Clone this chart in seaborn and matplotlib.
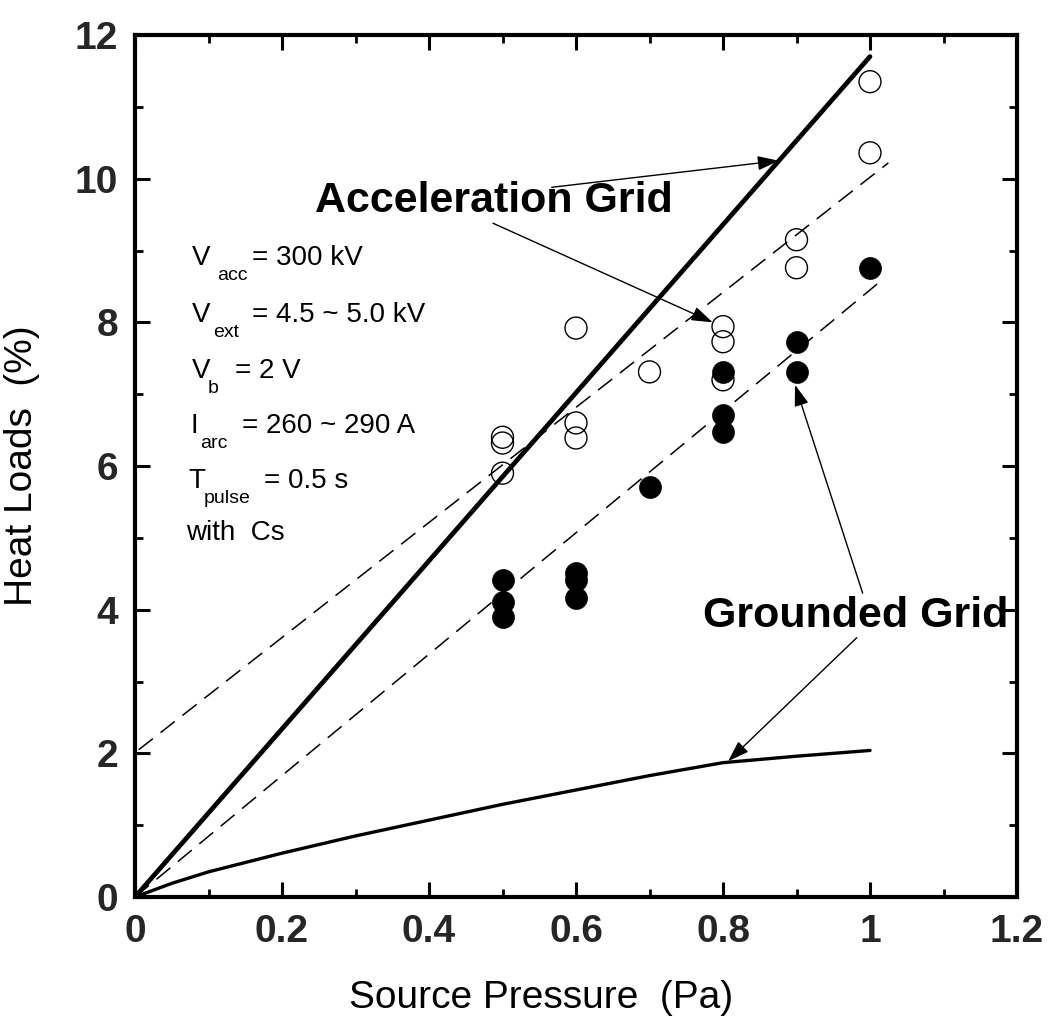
import matplotlib
matplotlib.use("Agg")
import matplotlib.pyplot as plt
import seaborn as sns
import pandas as pd
from matplotlib.ticker import MultipleLocator, FixedLocator, FixedFormatter

# ---------------- data ----------------
accel_x = [0.5, 0.5, 0.5, 0.6, 0.6, 0.6, 0.7, 0.8, 0.8, 0.8, 0.9, 0.9, 1.0, 1.0]
accel_y = [6.40, 6.32, 5.90, 7.92, 6.60, 6.39, 7.31, 7.94, 7.73, 7.20, 9.15, 8.76, 11.35, 10.36]

ground_x = [0.5, 0.5, 0.5, 0.6, 0.6, 0.6, 0.7, 0.8, 0.8, 0.8, 0.9, 0.9, 1.0]
ground_y = [4.41, 4.11, 3.90, 4.51, 4.41, 4.16, 5.71, 7.31, 6.71, 6.47, 7.73, 7.31, 8.76]

accel_line_x = [0.0, 1.0]
accel_line_y = [0.0, 11.7]

upper_dash_x = [0.005, 1.025]
upper_dash_y = [2.05, 10.22]

lower_dash_x = [0.0, 1.02]
lower_dash_y = [0.0, 8.62]

ground_curve_x = [0.0, 0.05, 0.1, 0.2, 0.3, 0.4, 0.5, 0.6, 0.7, 0.8, 0.9, 1.0]
ground_curve_y = [0.0, 0.19, 0.35, 0.61, 0.85, 1.07, 1.29, 1.49, 1.69, 1.87, 1.96, 2.04]

x_ticks = [0, 0.2, 0.4, 0.6, 0.8, 1.0, 1.2]
x_tick_labels = ["0", "0.2", "0.4", "0.6", "0.8", "1", "1.2"]
y_ticks = [0, 2, 4, 6, 8, 10, 12]
y_tick_labels = ["0", "2", "4", "6", "8", "10", "12"]

cond_symbols = ["V", "V", "V", "I", "T", "with  Cs"]
cond_subs = ["acc", "ext", "b", "arc", "pulse", ""]
cond_values = ["= 300 kV", "= 4.5 ~ 5.0 kV", "= 2 V", "= 260 ~ 290 A", "= 0.5 s", ""]

# ---------------- layout (positions only) ----------------
cond_base_y = [8.80, 8.00, 7.23, 6.46, 5.69, 4.97]
cond_sym_x = [0.078, 0.078, 0.078, 0.075, 0.072, 0.070]
cond_sub_x = [0.112, 0.106, 0.099, 0.089, 0.093, 0.0]
cond_val_x = [0.159, 0.159, 0.136, 0.145, 0.175, 0.0]

# ---------------- style ----------------
sns.set_theme(style="ticks")
plt.rcParams["font.family"] = ["Liberation Sans", "DejaVu Sans"]
plt.rcParams["lines.scale_dashes"] = False

fig = plt.figure(figsize=(10.53, 10.36), dpi=100)
ax = fig.add_axes([135 / 1053, 1 - 897 / 1036, 882 / 1053, 862 / 1036])

df_open = pd.DataFrame({"x": accel_x, "y": accel_y})
df_fill = pd.DataFrame({"x": ground_x, "y": ground_y})

# fit lines
sns.lineplot(x=accel_line_x, y=accel_line_y, ax=ax, color="black", lw=3.4, zorder=3)
sns.lineplot(x=ground_curve_x, y=ground_curve_y, ax=ax, color="black", lw=2.4, zorder=3)
sns.lineplot(x=upper_dash_x, y=upper_dash_y, ax=ax, color="black", lw=1.1, zorder=2)
ax.lines[-1].set_dashes((13, 7))
sns.lineplot(x=lower_dash_x, y=lower_dash_y, ax=ax, color="black", lw=1.1, zorder=2)
ax.lines[-1].set_dashes((13, 7))

# points
sns.scatterplot(data=df_open, x="x", y="y", ax=ax, s=250, facecolor="none",
                edgecolor="black", linewidth=1.0, zorder=4)
sns.scatterplot(data=df_fill, x="x", y="y", ax=ax, s=250, color="black",
                edgecolor="black", linewidth=0.5, zorder=5)

# axes
ax.set_xlim(0, 1.2)
ax.set_ylim(0, 12)
ax.xaxis.set_major_locator(FixedLocator(x_ticks))
ax.xaxis.set_major_formatter(FixedFormatter(x_tick_labels))
ax.yaxis.set_major_locator(FixedLocator(y_ticks))
ax.yaxis.set_major_formatter(FixedFormatter(y_tick_labels))
ax.xaxis.set_minor_locator(MultipleLocator(0.1))
ax.yaxis.set_minor_locator(MultipleLocator(1))
ax.tick_params(which="both", direction="in", top=True, right=True, color="black")
ax.tick_params(which="major", length=11, width=2.2, labelsize=28, pad=12)
ax.tick_params(which="minor", length=6, width=2.0)
for lab in ax.get_xticklabels() + ax.get_yticklabels():
    lab.set_fontweight("bold")
for sp in ax.spines.values():
    sp.set_linewidth(3)
    sp.set_color("black")
    sp.set_visible(True)
ax.set_facecolor("white")

ax.set_xlabel("Source Pressure  (Pa)", fontsize=28, color="black")
ax.xaxis.set_label_coords(0.46, -0.096)
ax.set_ylabel("Heat Loads  (%)", fontsize=28, color="black")
ax.yaxis.set_label_coords(-0.108, 0.5)

# conditions text (symbol, lowered subscript, value)
for sym, sub, val, yb, xs, xsub, xv in zip(cond_symbols, cond_subs, cond_values,
                                          cond_base_y, cond_sym_x, cond_sub_x, cond_val_x):
    ax.text(xs, yb, sym, fontsize=20, ha="left", va="baseline", color="black")
    if sub:
        ax.text(xsub, yb - 0.21, sub, fontsize=14, ha="left", va="baseline", color="black")
    if val:
        ax.text(xv, yb, val, fontsize=20, ha="left", va="baseline", color="black")

# labels and arrows
ax.text(0.245, 9.54, "Acceleration Grid", fontsize=31, fontweight="bold",
        ha="left", va="baseline", color="black")
ax.text(0.773, 3.76, "Grounded Grid", fontsize=31, fontweight="bold",
        ha="left", va="baseline", color="black", clip_on=False, zorder=1)

arrow = dict(arrowstyle="-|>,head_length=0.65,head_width=0.22", lw=1.0,
             color="black", shrinkA=0, shrinkB=0, mutation_scale=20)
ax.annotate("", xy=(0.876, 10.25), xytext=(0.567, 9.88), arrowprops=arrow)
ax.annotate("", xy=(0.786, 8.0), xytext=(0.487, 9.38), arrowprops=arrow)
ax.annotate("", xy=(0.898, 7.13), xytext=(0.990, 4.23), arrowprops=arrow)
ax.annotate("", xy=(0.807, 1.89), xytext=(0.982, 3.61), arrowprops=arrow)

fig.savefig("out.png", dpi=100, facecolor="white")
